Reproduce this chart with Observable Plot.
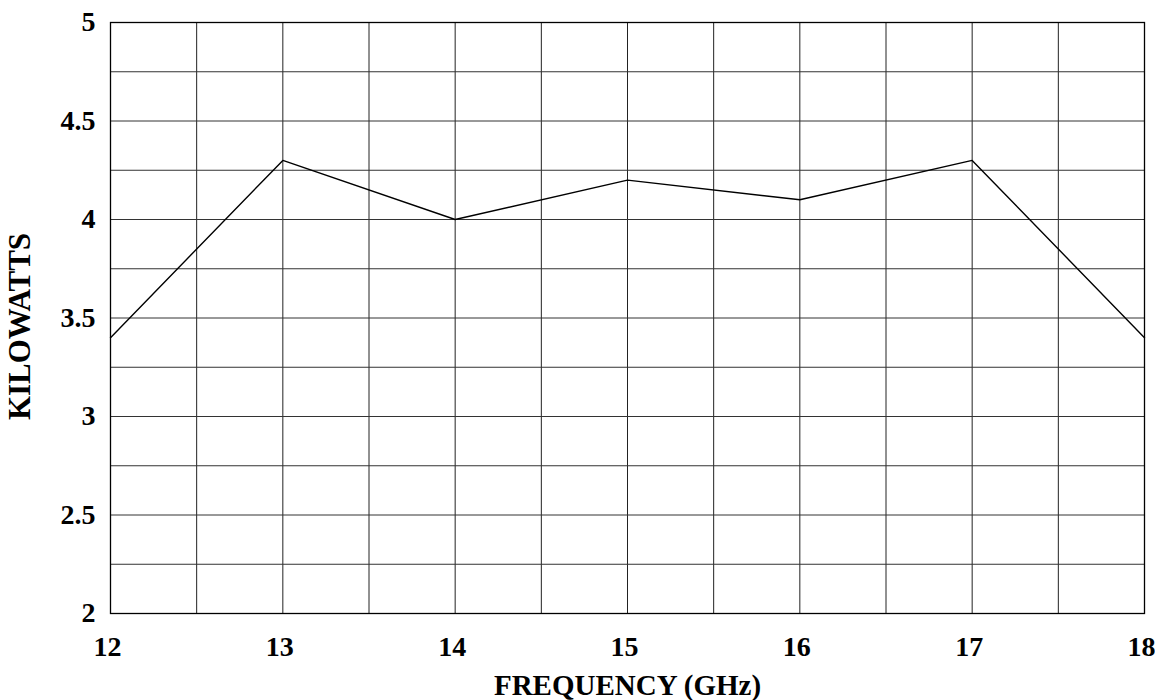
<!DOCTYPE html>
<html>
<head>
<meta charset="utf-8">
<script src="https://cdn.jsdelivr.net/npm/d3@7"></script>
<script src="https://cdn.jsdelivr.net/npm/@observablehq/plot@0.6"></script>
<style>
  html, body { margin: 0; padding: 0; background: #fff; }
  #chart { width: 1155px; height: 700px; }
</style>
</head>
<body>
<div id="chart"></div>
<script>
// Data
const frequency = [12, 13, 14, 15, 16, 17, 18];
const kilowatts = [3.4, 4.3, 4.0, 4.2, 4.1, 4.3, 3.4];
const xTickValues = [12, 13, 14, 15, 16, 17, 18];
const yTickValues = [2, 2.5, 3, 3.5, 4, 4.5, 5];
const xGridValues = [12, 12.5, 13, 13.5, 14, 14.5, 15, 15.5, 16, 16.5, 17, 17.5, 18];
const yGridValues = [2, 2.25, 2.5, 2.75, 3, 3.25, 3.5, 3.75, 4, 4.25, 4.5, 4.75, 5];
const xLabel = "FREQUENCY (GHz)";
const yLabel = "KILOWATTS";

const rows = frequency.map((f, i) => ({f, kw: kilowatts[i]}));
const font = "'Liberation Serif', 'Times New Roman', serif";

const chart = Plot.plot({
  width: 1155,
  height: 700,
  marginLeft: 110,
  marginRight: 11,
  marginTop: 22,
  marginBottom: 87,
  style: {fontFamily: font, fontWeight: "bold", fontSize: "28px", color: "#000", background: "#fff"},
  x: {domain: [12, 18]},
  y: {domain: [2, 5]},
  marks: [
    Plot.ruleX(xGridValues, {stroke: "#222", strokeWidth: 1}),
    Plot.ruleY(yGridValues, {stroke: "#333", strokeWidth: 1}),
    Plot.frame({stroke: "#000", strokeWidth: 1.3}),
    Plot.line(rows, {x: "f", y: "kw", stroke: "#000", strokeWidth: 1.4}),
    Plot.axisX({ticks: xTickValues, tickSize: 0, tickPadding: 23, dx: -3, label: null, fontSize: 28, fontWeight: "bold", fontFamily: font, tickFormat: d => String(d)}),
    Plot.axisY({ticks: yTickValues, tickSize: 0, tickPadding: 15, label: null, fontSize: 28, fontWeight: "bold", fontFamily: font, tickFormat: d => String(d)}),
    Plot.text([xLabel], {frameAnchor: "bottom", text: d => d, dy: 81, fontSize: 29, fontWeight: "bold", fontFamily: font, fill: "#000"}),
    Plot.text([yLabel], {frameAnchor: "left", text: d => d, rotate: -90, textAnchor: "middle", lineAnchor: "middle", dx: -90, dy: 8.5, fontSize: 31, fontWeight: "bold", fontFamily: font, fill: "#000"})
  ]
});
document.getElementById("chart").appendChild(chart);
</script>
</body>
</html>
